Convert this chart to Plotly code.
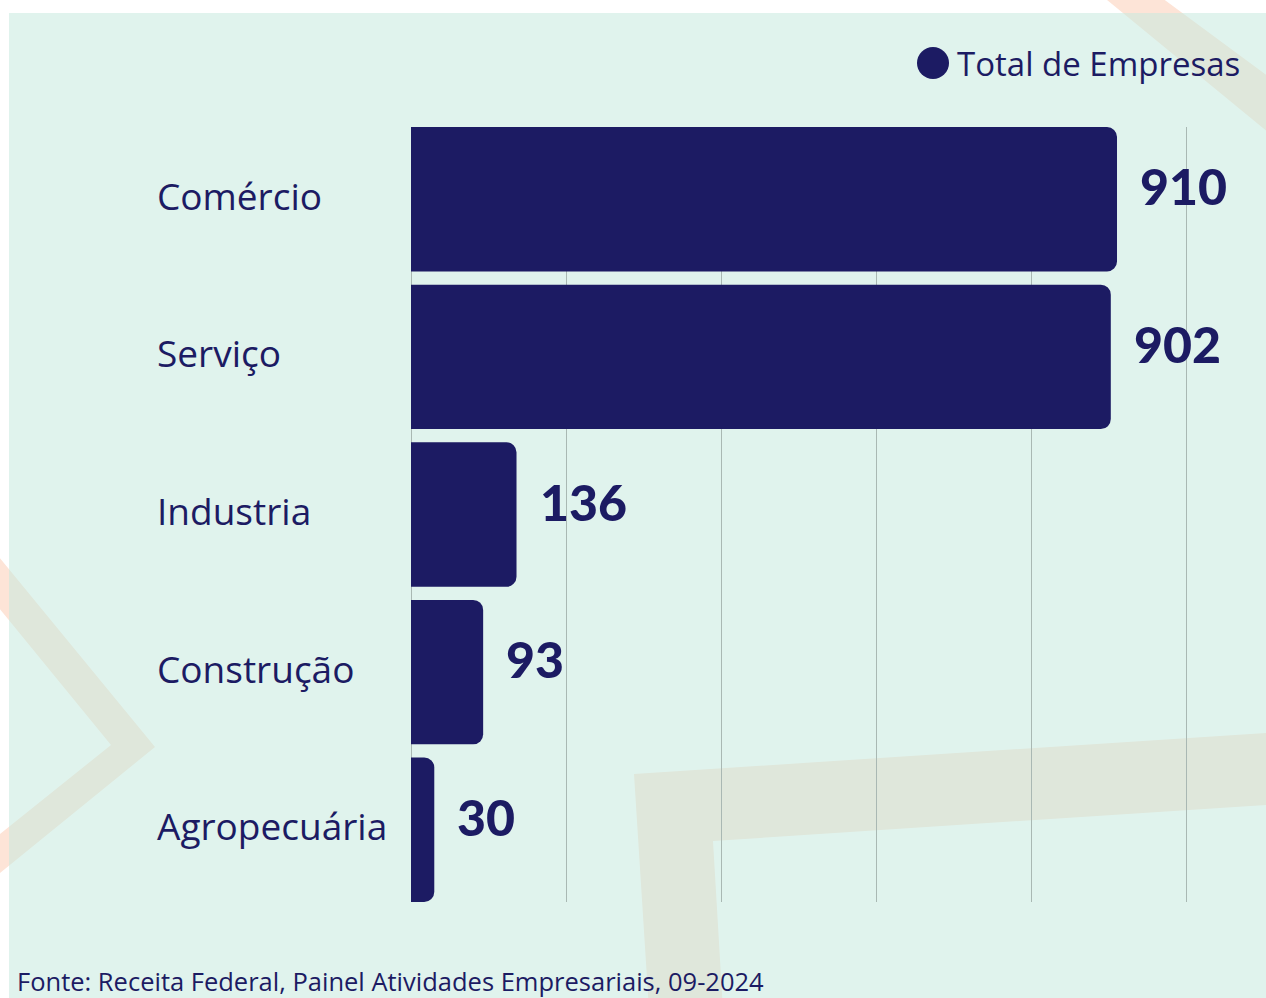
import plotly.graph_objects as go

# ---- data ----
categories = ["Comércio", "Serviço", "Industria", "Construção", "Agropecuária"]
values = [910, 902, 136, 93, 30]
series_name = "Total de Empresas"
source_text = "Fonte: Receita Federal, Painel Atividades Empresariais, 09-2024"
x_ticks = [0, 200, 400, 600, 800, 1000]

NAVY = "#1c1b63"
LABEL_FONT = "Open Sans"
NUM_FONT = "Lato"
FIG_W, FIG_H = 1266, 998
L, R, T, B = 411, 78, 127, 96
PW = FIG_W - L - R
PH = FIG_H - T - B


def px(x):
    return (x - L) / PW


def py(y):
    return (FIG_H - B - y) / PH


def path(points):
    return "M " + " L ".join(f"{px(x):.5f},{py(y):.5f}" for x, y in points) + " Z"


fig = go.Figure()
fig.add_trace(go.Bar(
    x=values, y=categories, orientation="h",
    marker=dict(color=NAVY, cornerradius=10, line=dict(width=0)),
    name=series_name, showlegend=False, hoverinfo="x+y",
))

band = "rgb(253,228,215)"
shapes = []
# decorative bands (drawn first, then the translucent mint panel over them)
shapes.append(dict(type="path", xref="paper", yref="paper", layer="below",
                   fillcolor=band, line=dict(width=0),
                   path=path([(1101, -5), (1158, -5), (1280, 85), (1280, 142)])))
shapes.append(dict(type="path", xref="paper", yref="paper", layer="below",
                   fillcolor=band, line=dict(width=0),
                   path=path([(-10, 546), (155, 747), (-10, 881), (-10, 842),
                              (111, 745), (-10, 597)])))
shapes.append(dict(type="path", xref="paper", yref="paper", layer="below",
                   fillcolor=band, line=dict(width=0),
                   path=path([(634, 774), (1280, 732), (1280, 804), (713, 841),
                              (723, 1010), (649, 1010)])))
# mint panel
shapes.append(dict(type="rect", xref="paper", yref="paper", layer="below",
                   x0=px(9), x1=px(1280), y0=py(13), y1=py(1010),
                   fillcolor="rgba(198,233,223,0.55)", line=dict(width=0)))
# legend dot
shapes.append(dict(type="circle", xref="paper", yref="paper", layer="above",
                   x0=px(917), x1=px(949), y0=py(47), y1=py(79),
                   fillcolor=NAVY, line=dict(width=0)))

annotations = []
for c, v in zip(categories, values):
    annotations.append(dict(
        x=v, y=c, xref="x", yref="y", text=str(v), showarrow=False,
        xanchor="left", yanchor="middle", xshift=21, yshift=13,
        font=dict(family=NUM_FONT, size=50, color=NAVY, weight=900)))
    annotations.append(dict(
        x=px(155), y=c, xref="paper", yref="y", text=c, showarrow=False,
        xanchor="left", yanchor="middle", yshift=4,
        font=dict(family=LABEL_FONT, size=37, color=NAVY)))

annotations.append(dict(
    x=px(955), y=py(63), xref="paper", yref="paper", text=series_name,
    showarrow=False, xanchor="left", yanchor="middle",
    font=dict(family=LABEL_FONT, size=33, color=NAVY)))
annotations.append(dict(
    x=px(15), y=py(981), xref="paper", yref="paper", text=source_text,
    showarrow=False, xanchor="left", yanchor="middle",
    font=dict(family=LABEL_FONT, size=25.5, color=NAVY)))

bargap = 0.0833
half = (1 - bargap) / 2

fig.update_layout(
    width=FIG_W, height=FIG_H,
    margin=dict(l=L, r=R, t=T, b=B, pad=0),
    paper_bgcolor="white", plot_bgcolor="rgba(0,0,0,0)",
    bargap=bargap, showlegend=False,
    shapes=shapes, annotations=annotations,
    xaxis=dict(range=[x_ticks[0], x_ticks[-1] * 1.0015], tickvals=x_ticks,
               showticklabels=False, showgrid=True, gridcolor="#a9b8b3",
               gridwidth=1, zeroline=True, zerolinecolor="#a9b8b3",
               zerolinewidth=1, showline=False, ticks=""),
    yaxis=dict(type="category", categoryorder="array", categoryarray=categories,
               range=[len(categories) - 1 + half, -half],
               showticklabels=False, showgrid=False, zeroline=False,
               showline=False, ticks=""),
    font=dict(family=LABEL_FONT, color=NAVY),
)

fig.write_html(
    "out.html",
    config={"displayModeBar": False},
    post_script="document.body.style.margin='0';document.body.style.overflow='hidden';",
)
